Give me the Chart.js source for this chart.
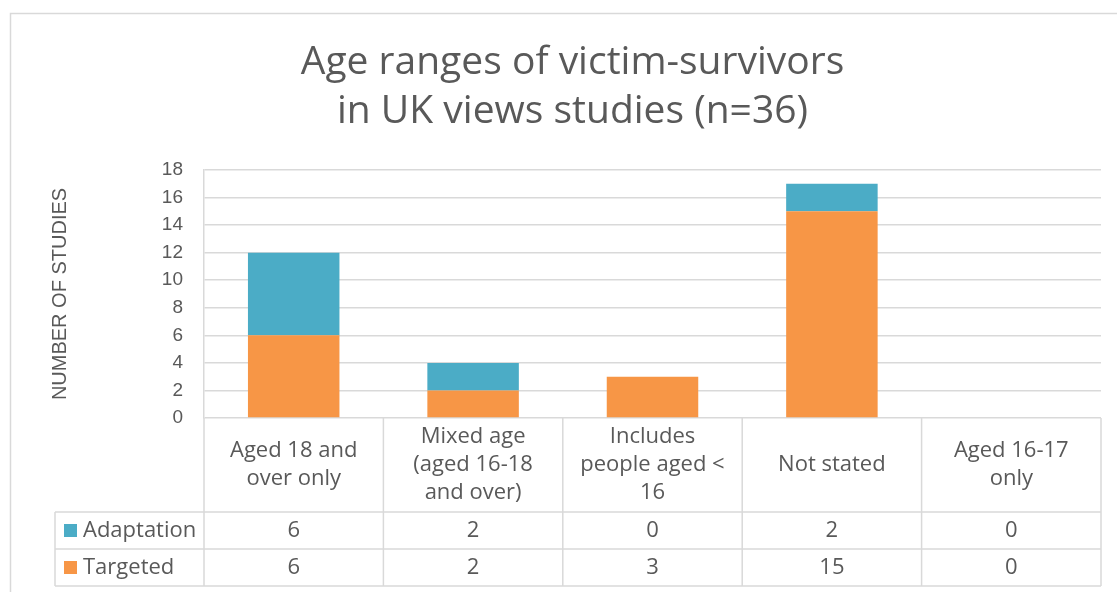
<!DOCTYPE html>
<html>
<head>
<meta charset="utf-8">
<script src="https://cdn.jsdelivr.net/npm/chart.js@4.4.1/dist/chart.umd.min.js"></script>
<style>
  html, body { margin: 0; padding: 0; background: #fff; }
  #wrap { width: 1117px; height: 592px; position: relative; }
</style>
</head>
<body>
<div id="wrap"><canvas id="c"></canvas></div>
<script>
/* datos del gráfico */
const CATEGORIES = [
  ['Aged 18 and', 'over only'],
  ['Mixed age', '(aged 16-18', 'and over)'],
  ['Includes', 'people aged <', '16'],
  ['Not stated'],
  ['Aged 16-17', 'only']
];
const ADAPTATION = [6, 2, 0, 2, 0];
const TARGETED = [6, 2, 3, 15, 0];
const Y_TICKS = [0, 2, 4, 6, 8, 10, 12, 14, 16, 18];

const INK = '#595959', LINE = '#d9d9d9';
const TEAL = '#4BACC6', ORANGE = '#F79646';
const TABLE_FONT = '"Open Sans", "Liberation Sans", sans-serif';
const AXIS_FONT = '"Liberation Sans", Arial, sans-serif';

/* marco exterior + tabla de datos bajo el eje */
const dataTable = {
  id: 'dataTable',
  beforeDraw(chart) {
    const ctx = chart.ctx;
    ctx.save();
    ctx.strokeStyle = LINE;
    ctx.lineWidth = 1.5;
    ctx.strokeRect(10.5, 13.5, 1300, 800);
    ctx.restore();
  },
  afterDraw(chart) {
    const { ctx, chartArea: a, scales: { x } } = chart;
    const colW = (a.right - a.left) / CATEGORIES.length;
    const yTop = a.bottom, yCat = a.bottom + 94, yRow1 = yCat + 37, yRow2 = yRow1 + 37;
    const legL = 55;
    ctx.save();
    ctx.strokeStyle = LINE;
    ctx.lineWidth = 1.5;
    ctx.beginPath();
    // horizontales
    [yCat, yRow1, yRow2].forEach(y => { ctx.moveTo(legL, y); ctx.lineTo(a.right, y); });
    // verticales
    for (let i = 0; i <= CATEGORIES.length; i++) {
      const xx = a.left + i * colW;
      ctx.moveTo(xx, yTop); ctx.lineTo(xx, yRow2);
    }
    ctx.moveTo(legL, yCat); ctx.lineTo(legL, yRow2);
    ctx.stroke();

    ctx.fillStyle = INK;
    ctx.font = '22px ' + TABLE_FONT;
    ctx.textAlign = 'center';
    ctx.textBaseline = 'middle';
    const lh = 28, midCat = (yTop + yCat) / 2;
    CATEGORIES.forEach((lines, i) => {
      const cx = x.getPixelForValue(i);
      const y0 = midCat - (lines.length - 1) * lh / 2;
      lines.forEach((t, k) => ctx.fillText(t, cx, y0 + k * lh));
      ctx.fillText(String(ADAPTATION[i]), cx, (yCat + yRow1) / 2);
      ctx.fillText(String(TARGETED[i]), cx, (yRow1 + yRow2) / 2);
    });

    // leyenda en la tabla
    ctx.textAlign = 'left';
    [[TEAL, 'Adaptation', (yCat + yRow1) / 2], [ORANGE, 'Targeted', (yRow1 + yRow2) / 2]]
      .forEach(([col, name, cy]) => {
        ctx.fillStyle = col;
        ctx.fillRect(64, cy - 6.5, 13, 13);
        ctx.fillStyle = INK;
        ctx.fillText(name, 83, cy);
      });
    ctx.restore();
  }
};

new Chart('c', {
  type: 'bar',
  data: {
    labels: CATEGORIES,
    datasets: [
      { label: 'Targeted', data: TARGETED, backgroundColor: ORANGE,
        barPercentage: 0.51, categoryPercentage: 1 },
      { label: 'Adaptation', data: ADAPTATION, backgroundColor: TEAL,
        barPercentage: 0.51, categoryPercentage: 1 }
    ]
  },
  options: {
    responsive: true, maintainAspectRatio: false, animation: false,
    layout: { padding: { left: 44, right: 16, top: 0, bottom: 174 } },
    plugins: {
      legend: { display: false },
      tooltip: { enabled: false },
      title: {
        display: true,
        text: ['Age ranges of victim-survivors', 'in UK views studies (n=36)'],
        color: INK,
        font: { family: TABLE_FONT, size: 39, weight: 'normal', lineHeight: 1.256 },
        padding: { top: 38, bottom: 34 }
      }
    },
    scales: {
      x: { display: false, stacked: true },
      y: {
        stacked: true, min: 0, max: 18,
        afterBuildTicks: s => { s.ticks = Y_TICKS.map(v => ({ value: v })); },
        afterFit: s => { s.width = 160; },
        ticks: { color: INK, padding: 21, font: { family: AXIS_FONT, size: 19 } },
        grid: { color: LINE, lineWidth: 1.5, drawTicks: false },
        border: { display: true, color: LINE, width: 1.5 },
        title: {
          display: true, text: 'NUMBER OF STUDIES', color: INK,
          font: { family: AXIS_FONT, size: 20 }, padding: { top: 4, bottom: 0 }
        }
      }
    }
  },
  plugins: [dataTable]
});
</script>
</body>
</html>
